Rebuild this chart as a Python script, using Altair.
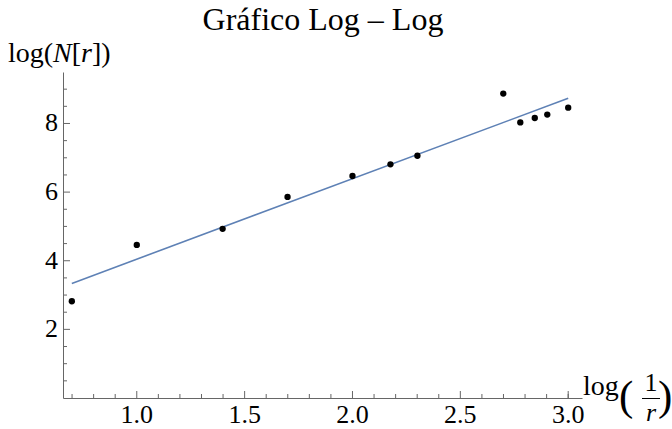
import altair as alt
import pandas as pd

# Data (log(1/r), log(N[r]))
x_vals = [0.699, 1.0, 1.398, 1.699, 2.0, 2.176, 2.301, 2.699, 2.778, 2.845, 2.903, 3.0]
y_vals = [2.82, 4.46, 4.93, 5.86, 6.47, 6.81, 7.06, 8.87, 8.03, 8.16, 8.26, 8.46]

x_major = [1.0, 1.5, 2.0, 2.5, 3.0]
x_major_labels = ["1.0", "1.5", "2.0", "2.5", "3.0"]
x_minor = [0.7, 0.8, 0.9, 1.1, 1.2, 1.3, 1.4, 1.6, 1.7, 1.8, 1.9,
           2.1, 2.2, 2.3, 2.4, 2.6, 2.7, 2.8, 2.9, 3.0]
y_major = [2, 4, 6, 8]
y_major_labels = ["2", "4", "6", "8"]
y_minor = [0.5, 1, 1.5, 2.5, 3, 3.5, 4.5, 5, 5.5, 6.5, 7, 7.5, 8.5, 9]

FONT = "Liberation Serif"
AX = "#666666"
W, H = 519, 326

df = pd.DataFrame({"x": x_vals, "y": y_vals})

xscale = alt.Scale(domain=[0.658, 3.064], nice=False, zero=False)
yscale = alt.Scale(domain=[0, 9.5], nice=False, zero=False)

X = alt.X("x:Q", scale=xscale, axis=alt.Axis(
    title="", labels=False, ticks=False, grid=False, domain=True,
    domainColor=AX, domainWidth=1))
Y = alt.Y("y:Q", scale=yscale, axis=alt.Axis(
    title="", labels=False, ticks=False, grid=False, domain=True,
    domainColor=AX, domainWidth=1))

points = alt.Chart(df).mark_circle(color="black", opacity=1, size=40).encode(x=X, y=Y)
fit = alt.Chart(df).transform_regression("x", "y").mark_line(
    color="#5E81B5", strokeWidth=1.6).encode(x=X, y=Y)

def xticks(vals, length):
    d = pd.DataFrame({"x": vals})
    return alt.Chart(d).mark_rule(color=AX, strokeWidth=1).encode(
        x=X, y=alt.value(H), y2=alt.value(H - length))

def yticks(vals, length):
    d = pd.DataFrame({"y": vals})
    return alt.Chart(d).mark_rule(color=AX, strokeWidth=1).encode(
        y=Y, x=alt.value(0), x2=alt.value(length))

xtl = alt.Chart(pd.DataFrame({"x": x_major, "t": x_major_labels})).mark_text(
    font=FONT, fontSize=26, baseline="top", align="center", color="black").encode(
    x=X, y=alt.value(H + 4), text="t:N")
ytl = alt.Chart(pd.DataFrame({"y": y_major, "t": y_major_labels})).mark_text(
    font=FONT, fontSize=26, baseline="middle", align="right", color="black").encode(
    y=Y, x=alt.value(-5), text="t:N")

def label(text, x, y, size, align="left", style="normal"):
    d = pd.DataFrame({"t": [text]})
    return alt.Chart(d).mark_text(
        font=FONT, fontSize=size, align=align, baseline="alphabetic",
        fontStyle=style, color="black").encode(
        text="t:N", x=alt.value(x), y=alt.value(y))

title = label("Gráfico Log – Log", 260, -42, 32, align="center")

# y-axis label: log(N[r])
ylab = [
    label("log(", -55, -10, 28),
    label("N", -9.9, -10, 28, style="italic"),
    label("[", 8.8, -10, 28),
    label("r", 18.1, -10, 28, style="italic"),
    label("])", 29.0, -10, 28),
]

# x-axis label: log(1/r) with fraction
bar = alt.Chart(pd.DataFrame({"a": [0]})).mark_rule(color="black", strokeWidth=1).encode(
    x=alt.value(579), x2=alt.value(597), y=alt.value(326.5))
xlab = [
    label("log", 520, 323, 28),
    label("(", 556, 338, 43),
    label("1", 588, 319, 26, align="center"),
    bar,
    label("r", 588, 349, 26, align="center", style="italic"),
    label(")", 595, 338, 43),
]

chart = alt.layer(
    xticks(x_minor, 4), xticks(x_major, 7),
    yticks(y_minor, 4), yticks(y_major, 7),
    fit, points, xtl, ytl, title, *ylab, *xlab,
).properties(
    width=W, height=H,
    autosize=alt.AutoSizeParams(type="none"),
    padding={"left": 63, "top": 72, "right": 90, "bottom": 31},
    background="white",
).configure_view(stroke=None)

chart.save("out.html", embed_options={"renderer": "svg", "actions": False})
